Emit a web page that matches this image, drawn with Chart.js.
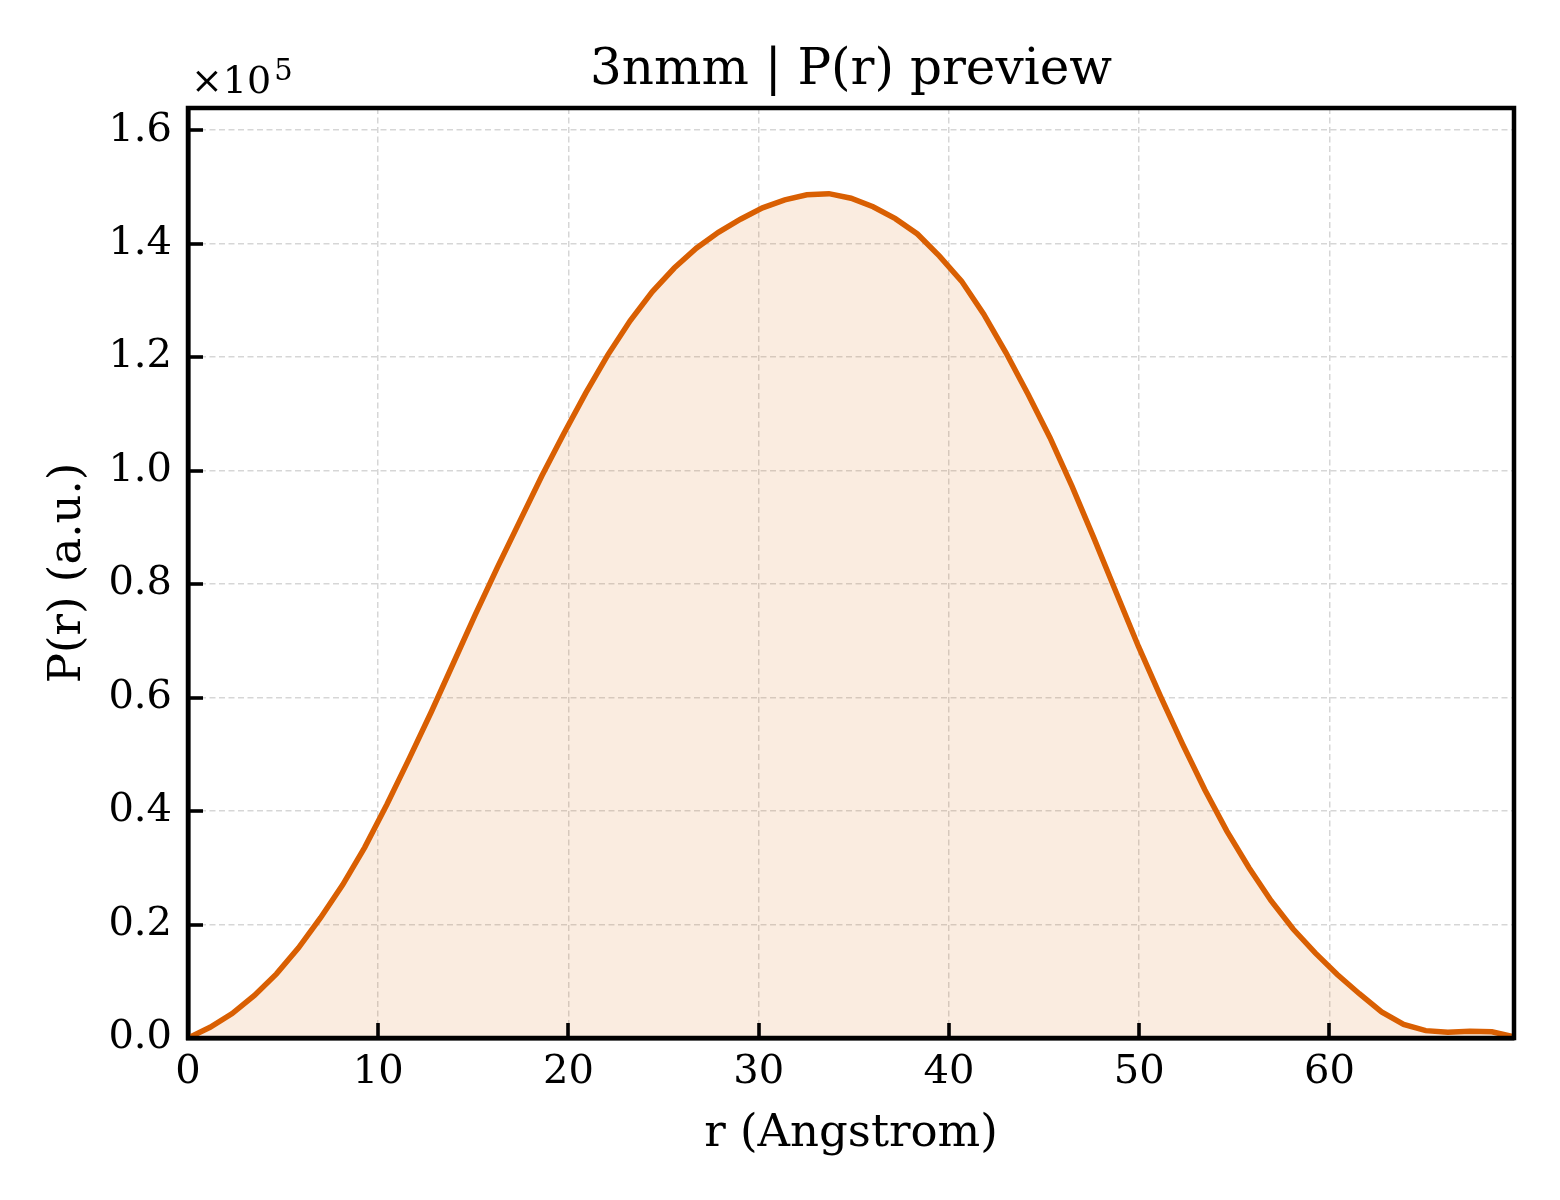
<!DOCTYPE html>
<html>
<head>
<meta charset="utf-8">
<script src="https://cdn.jsdelivr.net/npm/chart.js@4.4.1/dist/chart.umd.min.js"></script>
<style>
  html, body { margin: 0; padding: 0; background: #fff; }
  #wrap { width: 1560px; height: 1200px; position: relative; }
</style>
</head>
<body>
<div id="wrap"><canvas id="c" width="1560" height="1200"></canvas></div>
<script>
// ---- data ----
const chartTitle = '3nmm | P(r) preview';
const xLabel = 'r (Angstrom)';
const yLabel = 'P(r) (a.u.)';
const rValues = [0, 1.16, 2.32, 3.49, 4.65, 5.81, 6.97, 8.13, 9.29, 10.46,
  11.62, 12.78, 13.94, 15.10, 16.27, 17.43, 18.59, 19.75, 20.91, 22.07,
  23.24, 24.40, 25.56, 26.72, 27.88, 29.04, 30.20, 31.37, 32.53, 33.69,
  34.85, 36.01, 37.18, 38.34, 39.50, 40.66, 41.82, 42.99, 44.15, 45.31,
  46.47, 47.63, 48.79, 49.96, 51.12, 52.28, 53.44, 54.60, 55.77, 56.93,
  58.09, 59.25, 60.41, 61.57, 62.74, 63.90, 65.06, 66.22, 67.38, 68.54, 69.70];
const pValues = [0, 1900, 4300, 7500, 11300, 15900, 21200, 27000, 33600, 41200,
  49200, 57400, 66000, 74600, 83000, 91000, 99000, 106500, 113700, 120400,
  126400, 131500, 135700, 139200, 142000, 144300, 146300, 147700, 148600, 148800,
  148000, 146500, 144400, 141700, 137800, 133400, 127600, 120800, 113500, 105800,
  97200, 88000, 78500, 69000, 60200, 51800, 43800, 36500, 30000, 24200,
  19200, 15000, 11200, 7800, 4600, 2400, 1300, 1000, 1200, 1100, 200];
const xTicks = [0, 10, 20, 30, 40, 50, 60];
const yTicks = [0, 20000, 40000, 60000, 80000, 100000, 120000, 140000, 160000];
const xMin = 0, xMax = 69.7;
const yMin = 0, yMax = 163900;
const yExponent = 5;

const FONT = '"DejaVu Serif", "Liberation Serif", serif';
const lineColor = '#d95f02';
const fillColor = 'rgba(217,95,2,0.12)';

const decorPlugin = {
  id: 'decor',
  afterDatasetsDraw(chart) {
    const { ctx, chartArea: a, scales: { x, y } } = chart;
    ctx.save();
    ctx.strokeStyle = '#000';
    ctx.lineWidth = 3.6;
    x.ticks.forEach(t => {
      const px = Math.round(x.getPixelForValue(t.value));
      ctx.beginPath(); ctx.moveTo(px, a.bottom); ctx.lineTo(px, a.bottom - 15); ctx.stroke();
    });
    y.ticks.forEach(t => {
      const py = Math.round(y.getPixelForValue(t.value));
      ctx.beginPath(); ctx.moveTo(a.left, py); ctx.lineTo(a.left + 15, py); ctx.stroke();
    });
    ctx.lineWidth = 4.5;
    ctx.strokeRect(a.left, a.top, a.right - a.left, a.bottom - a.top);
    ctx.restore();
  },
  afterDraw(chart) {
    const { ctx, chartArea: a } = chart;
    ctx.save();
    ctx.fillStyle = '#000';
    ctx.font = '50px ' + FONT;
    ctx.textAlign = 'center';
    ctx.textBaseline = 'alphabetic';
    ctx.fillText(chartTitle, (a.left + a.right) / 2, 84);
    ctx.font = '45px ' + FONT;
    ctx.fillText(xLabel, (a.left + a.right) / 2, 1146);
    ctx.save();
    ctx.translate(80, (a.top + a.bottom) / 2);
    ctx.rotate(-Math.PI / 2);
    ctx.fillText(yLabel, 0, 0);
    ctx.restore();
    ctx.textAlign = 'left';
    ctx.font = '38px ' + FONT;
    const base = '\u00d710';
    ctx.fillText(base, a.left + 3, 93);
    const w = ctx.measureText(base).width;
    ctx.font = '29px ' + FONT;
    ctx.fillText(String(yExponent), a.left + 3 + w + 3, 80);
    ctx.restore();
  }
};

new Chart(document.getElementById('c'), {
  type: 'line',
  data: {
    datasets: [{
      data: rValues.map((r, i) => ({ x: r, y: pValues[i] })),
      borderColor: lineColor,
      backgroundColor: fillColor,
      borderWidth: 5.5,
      pointRadius: 0,
      tension: 0,
      fill: 'origin'
    }]
  },
  options: {
    responsive: false,
    animation: false,
    devicePixelRatio: 1,
    layout: { padding: { top: 108, right: 46, left: 0, bottom: 0 } },
    plugins: { legend: { display: false }, tooltip: { enabled: false }, title: { display: false } },
    scales: {
      x: {
        type: 'linear', min: xMin, max: xMax, bounds: 'data',
        afterFit(s) { s.height = 162; },
        afterBuildTicks(s) { s.ticks = xTicks.map(v => ({ value: v })); },
        ticks: {
          padding: 11, autoSkip: false,
          color: '#000', font: { family: FONT, size: 40 }, maxRotation: 0,
          callback: v => String(Math.round(v))
        },
        grid: { color: 'rgba(0,0,0,0.16)', lineWidth: 1.5, drawTicks: false },
        border: { display: true, color: '#000', width: 4.5, dash: [6, 3.5] }
      },
      y: {
        type: 'linear', min: yMin, max: yMax, bounds: 'data',
        afterFit(s) { s.width = 188; },
        afterBuildTicks(s) { s.ticks = yTicks.map(v => ({ value: v })); },
        ticks: {
          padding: 16, autoSkip: false,
          color: '#000', font: { family: FONT, size: 40 },
          callback: v => (v / Math.pow(10, yExponent)).toFixed(1)
        },
        grid: { color: 'rgba(0,0,0,0.16)', lineWidth: 1.5, drawTicks: false },
        border: { display: true, color: '#000', width: 4.5, dash: [6, 3.5] }
      }
    }
  },
  plugins: [decorPlugin]
});
</script>
</body>
</html>
